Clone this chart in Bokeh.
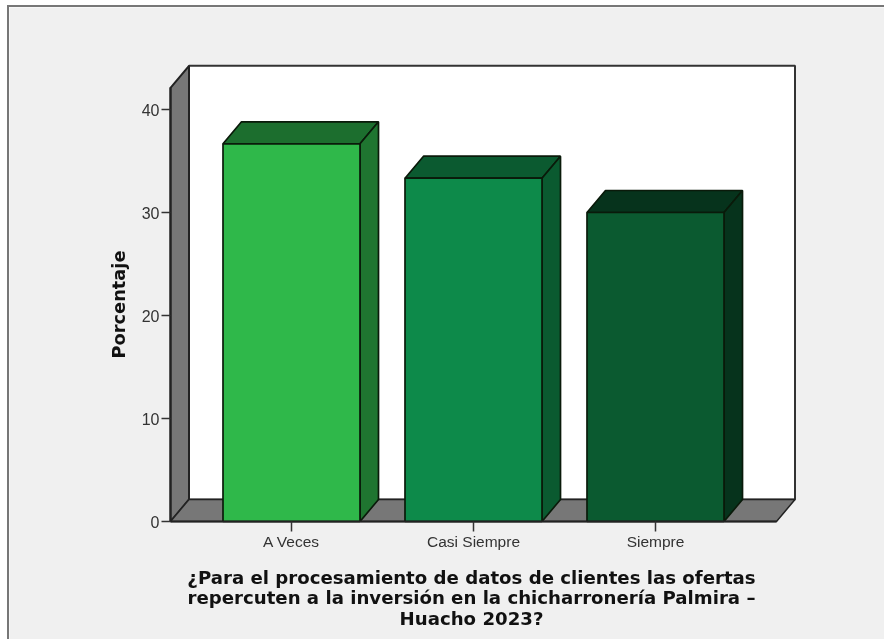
import math
from bokeh.plotting import figure
from bokeh.models import FixedTicker, Label
from bokeh.embed import file_html
from bokeh.resources import INLINE

categories = ["A Veces", "Casi Siempre", "Siempre"]
porcentaje = [36.67, 33.33, 30.0]
front_colors = ["#2FB84A", "#0D8A4A", "#0B5A30"]
top_colors = ["#1C6E2E", "#0B5A30", "#06331C"]
side_colors = ["#1F7530", "#0A5A30", "#06331C"]
y_ticks = [0, 10, 20, 30, 40]
title_lines = ["¿Para el procesamiento de datos de clientes las ofertas",
               "repercuten a la inversión en la chicharronería Palmira –",
               "Huacho 2023?"]

PX_X = 182.0
PX_Y = 10.3
DX = 18.5 / PX_X
DY = 22.0 / PX_Y
HALF = 68.5 / PX_X
X_LEFT = -121.0 / PX_X
X_FRONT_RIGHT = 485.0 / PX_X
WALL_TOP = 42.1


def page_x(px):
    return (px - 291.0) / PX_X


def page_y(py):
    return (521.0 - py) / PX_Y


p = figure(width=877, height=634, output_backend="svg", toolbar_location=None,
           x_range=(page_x(9), page_x(886)), y_range=(page_y(641), page_y(7)),
           min_border=0, min_border_left=0, min_border_right=0, min_border_top=0, min_border_bottom=0,
           background_fill_color="#F0F0F0", border_fill_color="#F0F0F0",
           outline_line_color=None,
           styles={"position": "fixed", "left": "7px", "top": "5px",
                   "border-left": "2px solid #777777", "border-top": "2px solid #777777"})
p.grid.visible = False

edge = "#222222"
bar_edge = "#0A1A0A"
p.patch([X_LEFT + DX, X_FRONT_RIGHT + DX, X_FRONT_RIGHT + DX, X_LEFT + DX],
        [DY, DY, WALL_TOP + DY, WALL_TOP + DY], fill_color="white", line_color="#333333", line_width=2)
p.patch([X_LEFT, X_LEFT + DX, X_LEFT + DX, X_LEFT],
        [0, DY, WALL_TOP + DY, WALL_TOP], fill_color="#777777", line_color=edge, line_width=2)
p.patch([X_LEFT, X_FRONT_RIGHT, X_FRONT_RIGHT + DX, X_LEFT + DX],
        [0, 0, DY, DY], fill_color="#777777", line_color=edge, line_width=1.5)

for i, v in enumerate(porcentaje):
    l, r = i - HALF, i + HALF
    p.patch([l, r, r + DX, l + DX], [v, v, v + DY, v + DY],
            fill_color=top_colors[i], line_color=bar_edge, line_width=1.7)
    p.patch([r, r + DX, r + DX, r], [0, DY, v + DY, v],
            fill_color=side_colors[i], line_color=bar_edge, line_width=1.7)
    p.patch([l, r, r, l], [0, 0, v, v],
            fill_color=front_colors[i], line_color=bar_edge, line_width=1.7)

p.xaxis.fixed_location = 0
p.yaxis.fixed_location = X_LEFT
p.xaxis.ticker = FixedTicker(ticks=[0, 1, 2])
p.xaxis.major_label_overrides = {i: c for i, c in enumerate(categories)}
p.xaxis.bounds = (X_LEFT, X_FRONT_RIGHT)
p.yaxis.ticker = FixedTicker(ticks=y_ticks)
p.yaxis.bounds = (0, WALL_TOP)

for ax in (p.xaxis[0], p.yaxis[0]):
    ax.axis_line_color = edge
    ax.axis_line_width = 2
    ax.major_tick_line_color = "#333333"
    ax.major_tick_line_width = 1.5
    ax.major_tick_in = 0
    ax.minor_tick_line_color = None
    ax.major_label_text_font = "Liberation Sans"
    ax.major_label_text_color = "#333333"
p.xaxis.major_tick_out = 10
p.yaxis.major_tick_out = 9
p.xaxis.major_label_text_font_size = "15.5px"
p.yaxis.major_label_text_font_size = "16px"
p.xaxis.major_label_standoff = 1
p.yaxis.major_label_standoff = 2

for line, y_px in zip(title_lines, [577, 597, 618]):
    p.add_layout(Label(x=page_x(471), y=page_y(y_px), text=line,
                       text_align="center", text_baseline="middle",
                       text_font="DejaVu Sans", text_font_style="bold",
                       text_font_size="18.15px", text_color="#111111"))

p.add_layout(Label(x=page_x(118), y=page_y(304), text="Porcentaje", angle=math.pi / 2,
                   text_align="center", text_baseline="middle",
                   text_font="DejaVu Sans", text_font_style="bold",
                   text_font_size="17.8px", text_color="#111111"))

open("out.html", "w").write(file_html(p, INLINE))
